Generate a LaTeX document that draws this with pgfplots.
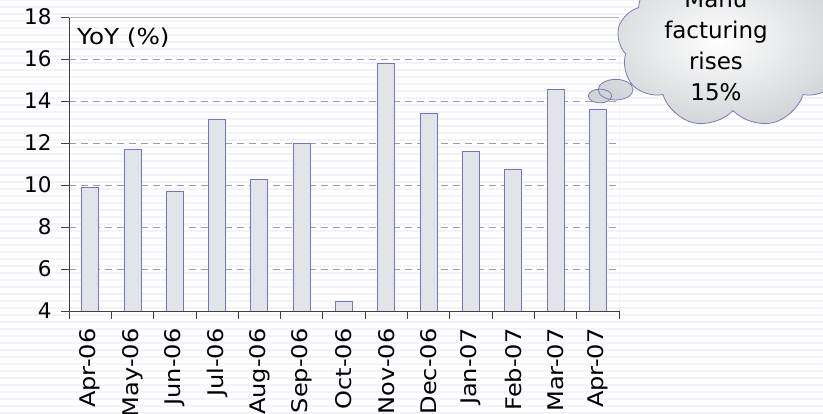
\documentclass[border=0pt]{standalone}
\usepackage{fontspec}
\setmainfont{DejaVu Sans}
\usepackage{pgfplots}
\pgfplotsset{compat=1.18}
\usetikzlibrary{shapes.callouts}
\definecolor{barfill}{HTML}{E1E4E8}
\definecolor{bardraw}{HTML}{7474C4}
\definecolor{cloudline}{HTML}{7A7AB8}
\definecolor{stripe}{HTML}{F3F3FB}
\definecolor{axisdark}{HTML}{404040}
\begin{document}
\begin{tikzpicture}
\path[use as bounding box, clip] (-69pt,-103pt) rectangle (754pt,311pt);
\fill[white] (-69pt,-103pt) rectangle (754pt,311pt);
\foreach \k in {0,...,60} {
  \draw[stripe, line width=2.5pt] (-69pt,{311pt-\k*7pt}) -- (754pt,{311pt-\k*7pt});
}
\begin{axis}[
  at={(0pt,0pt)}, anchor=south west,
  width=550pt, height=294pt, scale only axis,
  ymin=4, ymax=18, ytick={4,6,...,18},
  xmin=-0.5, xmax=12.5,
  xtick={0,...,12},
  xticklabels={Apr-06,May-06,Jun-06,Jul-06,Aug-06,Sep-06,Oct-06,Nov-06,Dec-06,Jan-07,Feb-07,Mar-07,Apr-07},
  minor xtick={-0.5,0.5,...,12.5},
  axis x line*=bottom, axis y line*=left,
  axis line style={axisdark, line width=0.8pt},
  tick align=outside,
  major tick length=8pt, minor tick length=8pt,
  major x tick style={draw=none},
  minor x tick style={axisdark, line width=0.8pt},
  y tick style={axisdark, line width=0.8pt},
  ymajorgrids,
  grid style={gray!75, line width=0.6pt, dash pattern=on 7pt off 5pt},
  tick label style={font=\fontsize{21.5}{24}\selectfont},
  xticklabel style={rotate=90, anchor=east, font=\fontsize{21.5}{24}\selectfont\addfontfeature{FakeStretch=1.12}},
  xticklabel shift=6pt,
  yticklabel style={xshift=-6pt},
  /pgf/number format/assume math mode=true,
  ybar, bar width=17pt, bar shift=0pt,
  clip=true,
]
\addplot[fill=barfill, draw=bardraw, line width=0.8pt] coordinates {
  (0,9.9) (1,11.7) (2,9.7) (3,13.1) (4,10.25) (5,12.0) (6,4.45)
  (7,15.8) (8,13.4) (9,11.6) (10,10.75) (11,14.56) (12,13.6)
};
\draw[gray!60, line width=0.8pt] (rel axis cs:0,1) -- (rel axis cs:1,1) -- (rel axis cs:1,0);
\node[anchor=base west, font=\fontsize{22}{26}\selectfont\addfontfeature{FakeStretch=1.12}, inner sep=0pt] at (rel axis cs:0,1) [xshift=8pt, yshift=-28pt] {YoY (\%)};
\end{axis}
\node[cloud callout, cloud puffs=9, cloud puff arc=120, cloud ignores aspect,
  minimum width=232pt, minimum height=172pt,
  callout absolute pointer={(531pt,215pt)},
  draw=cloudline, line width=0.8pt, inner color=white, outer color=barfill!80!gray!90] at (664pt,269pt) {};
\node[align=center, font=\fontsize{23}{31}\selectfont, inner sep=0pt] at (647pt,265pt) {Manu\\facturing\\rises\\15\%};
\end{tikzpicture}
\end{document}
